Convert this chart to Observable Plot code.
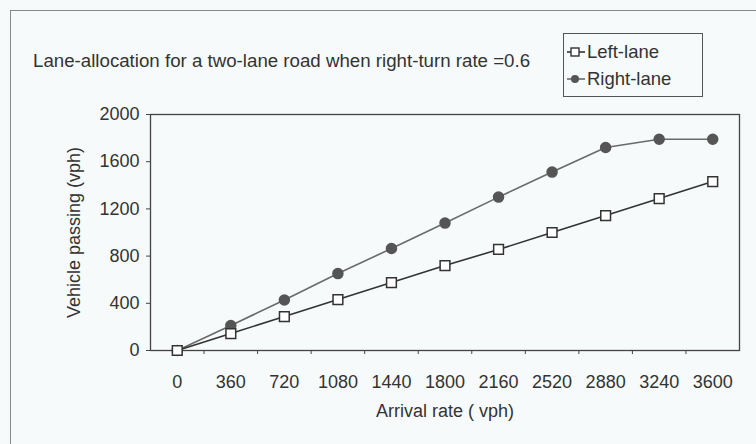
<!DOCTYPE html>
<html>
<head>
<meta charset="utf-8">
<script src="https://cdn.jsdelivr.net/npm/d3@7"></script>
<script src="https://cdn.jsdelivr.net/npm/@observablehq/plot@0.6"></script>
<style>
  html, body { margin: 0; padding: 0; background: #f7fafa; }
  #wrap { position: relative; width: 756px; height: 444px; overflow: hidden; font-family: "Liberation Sans", Arial, sans-serif; color: #333; }
  #borderTop { position: absolute; left: 10px; top: 10px; width: 746px; height: 0; border-top: 1.5px solid #888; }
  #borderLeft { position: absolute; left: 10px; top: 10px; width: 0; height: 434px; border-left: 1.5px solid #888; }
  #title { position: absolute; left: 33px; top: 50px; font-size: 18.7px; white-space: nowrap; }
  #legend { position: absolute; left: 563px; top: 33px; width: 140px; height: 64px; border: 1.3px solid #555; box-sizing: border-box; font-size: 18.5px; }
  .item { position: absolute; left: 3px; display: flex; align-items: center; }
  .item svg { margin-right: 2px; }
  #chart { position: absolute; left: 0; top: 0; }
</style>
</head>
<body>
<div id="wrap">
  <div id="chart"></div>
  <div id="borderTop"></div>
  <div id="borderLeft"></div>
  <div id="title">Lane-allocation for a two-lane road when right-turn rate =0.6</div>
  <div id="legend"></div>
</div>
<script>
const arrivalRates = [0, 360, 720, 1080, 1440, 1800, 2160, 2520, 2880, 3240, 3600];
const leftLane  = [0, 144, 288, 432, 576, 720, 856, 1000, 1144, 1288, 1432];
const rightLane = [0, 212, 428, 652, 864, 1080, 1300, 1512, 1720, 1790, 1790];
const yTicks = [0, 400, 800, 1200, 1600, 2000];
const seriesNames = ["Left-lane", "Right-lane"];

const step = arrivalRates[1] - arrivalRates[0];
const boundaries = arrivalRates.slice(0, -1).map(v => v + step / 2);

const rows = [];
arrivalRates.forEach((x, i) => {
  rows.push({series: seriesNames[0], x, y: leftLane[i]});
  rows.push({series: seriesNames[1], x, y: rightLane[i]});
});
const leftRows = rows.filter(d => d.series === seriesNames[0]);
const rightRows = rows.filter(d => d.series === seriesNames[1]);

const FS = 18;
const chart = Plot.plot({
  width: 756,
  height: 444,
  marginLeft: 150,
  marginRight: 17,
  marginTop: 114,
  marginBottom: 94,
  style: {background: "transparent", fontFamily: "Liberation Sans, Arial, sans-serif", fontSize: FS + "px", color: "#333"},
  x: {domain: [arrivalRates[0] - step / 2, arrivalRates[arrivalRates.length - 1] + step / 2]},
  y: {domain: [0, 2000]},
  marks: [
    Plot.frame({stroke: "#444", strokeWidth: 1.3}),
    Plot.axisY({ticks: yTicks, tickSize: 4, tickPadding: 7, fontSize: FS, tickFormat: d => String(d), label: "Vehicle passing (vph)", labelAnchor: "center", labelArrow: "none", labelOffset: 83, stroke: "#444", fill: "#333"}),
    Plot.axisX({ticks: arrivalRates, tickSize: 0, tickPadding: 25, fontSize: FS, label: "Arrival rate ( vph)", labelAnchor: "center", labelArrow: "none", labelOffset: 66, fill: "#333", tickFormat: d => String(d)}),
    Plot.axisX({ticks: boundaries, tickSize: 4, tickFormat: () => "", label: null, stroke: "#444"}),
    Plot.line(rightRows, {x: "x", y: "y", stroke: "#6a6a6a", strokeWidth: 1.6}),
    Plot.line(leftRows, {x: "x", y: "y", stroke: "#333", strokeWidth: 1.6}),
    Plot.dot(rightRows, {x: "x", y: "y", r: 5, fill: "#555", stroke: "#555"}),
    Plot.dot(leftRows, {x: "x", y: "y", symbol: "square", r: 5.5, fill: "white", stroke: "#333", strokeWidth: 1.5})
  ]
});
document.getElementById("chart").appendChild(chart);

// Legend
const legend = document.getElementById("legend");
seriesNames.forEach((name, i) => {
  const item = document.createElement("div");
  item.className = "item";
  item.style.top = (i === 0 ? 7 : 34) + "px";
  const marker = i === 0
    ? '<rect x="4" y="6" width="8" height="8" fill="white" stroke="#333" stroke-width="1.4"/>'
    : '<circle cx="8" cy="10" r="4" fill="#555"/>';
  item.innerHTML = `<svg width="18" height="20"><line x1="0" x2="18" y1="10" y2="10" stroke="${i === 0 ? '#333' : '#6a6a6a'}" stroke-width="1.6"/>${marker}</svg><span>${name}</span>`;
  legend.appendChild(item);
});
</script>
</body>
</html>
